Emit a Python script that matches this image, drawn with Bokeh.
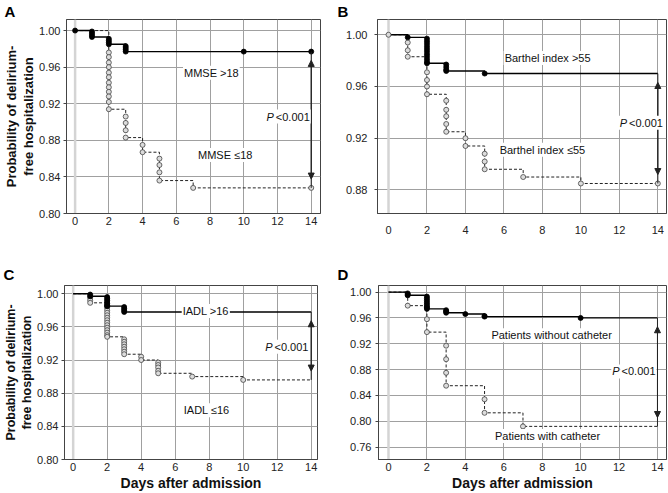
from bokeh.plotting import figure
from bokeh.layouts import column, row
from bokeh.models import Label, Arrow, NormalHead, FixedTicker, Span, Range1d, PrintfTickFormatter
from bokeh.embed import file_html
from bokeh.resources import INLINE

FONT = "Liberation Sans"

day_ticks = [0, 2, 4, 6, 8, 10, 12, 14]

# ---------------- Panel A (MMSE) ----------------
A_hi_t = [0, 1, 2, 3, 14]
A_hi_s = [1.000, 0.993, 0.985, 0.977, 0.977]
A_hi_marks = {0: [1.000], 1: [0.999, 0.997, 0.995, 0.993], 2: [0.991, 0.989, 0.987, 0.985],
              3: [0.983, 0.981, 0.979, 0.977], 10: [0.977], 14: [0.977]}
A_lo_t = [0, 2, 3, 4, 5, 7, 14]
A_lo_s = [1.000, 0.914, 0.883, 0.867, 0.836, 0.828, 0.828]
A_lo_marks = {2: [0.976, 0.971, 0.965, 0.960, 0.954, 0.949, 0.943, 0.938, 0.933, 0.928, 0.922, 0.914],
              3: [0.906, 0.899, 0.891, 0.883], 4: [0.875, 0.867], 5: [0.860, 0.853, 0.845, 0.836],
              7: [0.828], 14: [0.828]}
A_yticks = [0.80, 0.84, 0.88, 0.92, 0.96, 1.00]

# ---------------- Panel B (Barthel) ----------------
B_hi_t = [0, 1, 2, 3, 5, 14]
B_hi_s = [1.000, 0.998, 0.978, 0.972, 0.970, 0.970]
B_hi_marks = {1: [0.998], 2: [0.997, 0.995, 0.993, 0.991, 0.989, 0.987, 0.985, 0.983, 0.981, 0.979, 0.978],
              3: [0.977, 0.975, 0.973, 0.972], 5: [0.970]}
B_lo_t = [0, 1, 2, 3, 4, 5, 7, 10, 14]
B_lo_s = [1.000, 0.983, 0.954, 0.925, 0.914, 0.896, 0.890, 0.885, 0.885]
B_lo_marks = {0: [1.000], 1: [0.994, 0.988, 0.983], 2: [0.971, 0.965, 0.960, 0.954],
              3: [0.949, 0.942, 0.937, 0.931, 0.925], 4: [0.920, 0.914], 5: [0.908, 0.902, 0.896],
              7: [0.890], 10: [0.885], 14: [0.885]}
B_yticks = [0.88, 0.92, 0.96, 1.00]

# ---------------- Panel C (IADL) ----------------
C_hi_t = [0, 1, 2, 3, 14]
C_hi_s = [1.000, 0.997, 0.985, 0.978, 0.978]
C_hi_marks = {1: [0.999, 0.997], 2: [0.996, 0.994, 0.992, 0.990, 0.988, 0.986, 0.985],
              3: [0.984, 0.982, 0.980, 0.978]}
C_lo_t = [0, 1, 2, 3, 4, 5, 7, 10, 14]
C_lo_s = [1.000, 0.989, 0.948, 0.927, 0.920, 0.904, 0.900, 0.896, 0.896]
C_lo_marks = {1: [0.995, 0.992, 0.989],
              2: [0.986, 0.983, 0.980, 0.977, 0.974, 0.971, 0.968, 0.965, 0.962, 0.959, 0.956, 0.953, 0.950, 0.948],
              3: [0.945, 0.942, 0.939, 0.936, 0.933, 0.930, 0.927], 4: [0.924, 0.920],
              5: [0.917, 0.914, 0.911, 0.907, 0.904], 7: [0.900], 10: [0.896]}
C_yticks = [0.80, 0.84, 0.88, 0.92, 0.96, 1.00]

# ---------------- Panel D (catheter) ----------------
D_hi_t = [0, 1, 2, 3, 4, 5, 10, 14]
D_hi_s = [1.000, 0.995, 0.974, 0.968, 0.966, 0.962, 0.960, 0.960]
D_hi_marks = {1: [0.998, 0.996, 0.995], 2: [0.993, 0.990, 0.987, 0.984, 0.981, 0.978, 0.976, 0.974],
              3: [0.972, 0.970, 0.968], 4: [0.966], 5: [0.963, 0.962], 10: [0.960]}
D_lo_t = [0, 1, 2, 3, 5, 7, 14]
D_lo_s = [1.000, 0.979, 0.938, 0.855, 0.813, 0.792, 0.792]
D_lo_marks = {1: [0.979], 2: [0.958, 0.938], 3: [0.917, 0.896, 0.875, 0.855],
              5: [0.834, 0.813], 7: [0.792]}
D_yticks = [0.76, 0.80, 0.84, 0.88, 0.92, 0.96, 1.00]

Y_LABEL = "Probability of delirium-\nfree hospitalization"
X_LABEL = "Days after admission"


def flatten(marks):
    xs, ys = [], []
    for t, vals in marks.items():
        for v in vals:
            xs.append(t)
            ys.append(v)
    return xs, ys


def panel(letter, W, H, bl, br, bt, bb, xr, yr, yticks,
          hi_t, hi_s, hi_marks, lo_t, lo_s, lo_marks,
          hi_label, lo_label, p_pos, ylabel=None, xlabel=False,
          x_standoff=3, y_standoff=4, letter_standoff=0):
    p = figure(width=W, height=H, output_backend="svg", toolbar_location=None,
               x_range=Range1d(*xr), y_range=Range1d(*yr), title=letter[0],
               min_border_left=bl, min_border_right=br, min_border_top=bt, min_border_bottom=bb)
    fh = H - bt - bb

    # panel letter as the figure title, pushed to the left edge
    p.title.align = "left"
    p.title.offset = letter[1] - bl
    p.title.standoff = letter_standoff
    p.title.text_font = FONT
    p.title.text_font_size = "15px"
    p.title.text_font_style = "bold"
    p.title.text_color = "black"

    p.background_fill_color = "white"
    p.border_fill_color = "white"
    p.outline_line_color = "#444444"
    p.outline_line_width = 1

    for ax in (p.xaxis[0], p.yaxis[0]):
        ax.major_label_text_font = FONT
        ax.major_label_text_font_size = "11px"
        ax.major_label_text_color = "#222222"
        ax.axis_line_color = "#444444"
        ax.minor_tick_line_color = None
        ax.major_tick_line_color = "#444444"
        ax.axis_label_text_font = FONT
        ax.axis_label_text_font_style = "bold"
        ax.axis_label_text_color = "#111111"
    p.xaxis.ticker = FixedTicker(ticks=day_ticks)
    p.xaxis.major_tick_out = 0
    p.xaxis.major_tick_in = 0
    p.xaxis.major_label_standoff = x_standoff
    p.yaxis.ticker = FixedTicker(ticks=yticks)
    p.yaxis.formatter = PrintfTickFormatter(format="%.2f")
    p.yaxis.major_tick_out = 3
    p.yaxis.major_tick_in = 0
    p.yaxis.major_label_standoff = y_standoff
    if ylabel:
        p.yaxis.axis_label = Y_LABEL
        p.yaxis.axis_label_text_font_size = ylabel
        p.yaxis.axis_label_text_line_height = 1.15
        p.yaxis.axis_label_standoff = 0
    if xlabel:
        p.xaxis.axis_label = X_LABEL
        p.xaxis.axis_label_text_font_size = "14px"
        p.xaxis.axis_label_standoff = 1

    p.xgrid.ticker = FixedTicker(ticks=day_ticks)
    p.ygrid.ticker = FixedTicker(ticks=yticks)
    for g in (p.xgrid[0], p.ygrid[0]):
        g.grid_line_color = "#a0a0a0"
        g.grid_line_width = 1

    p.add_layout(Span(location=0, dimension="height", line_color="#d4d4d4", line_width=2.5, level="underlay"))

    # curves
    p.step(lo_t, lo_s, mode="after", line_color="#222222", line_width=1, line_dash="3 2")
    p.step(hi_t, hi_s, mode="after", line_color="black", line_width=1.4)
    lx, ly = flatten(lo_marks)
    p.scatter(lx, ly, marker="circle", size=5, fill_color="#dcdcdc", line_color="#444444", line_width=0.8)
    hx, hy = flatten(hi_marks)
    p.scatter(hx, hy, marker="circle", size=5, fill_color="black", line_color="black", line_width=0.8)

    # double arrow between the curves at day 14
    top, bot = hi_s[-1], lo_s[-1]
    inset = 9 * (yr[1] - yr[0]) / fh
    p.segment(x0=[hi_t[-1]], y0=[top], x1=[hi_t[-1]], y1=[bot], line_color="#222222", line_width=1)
    p.add_layout(Arrow(x_start=hi_t[-1], y_start=top - inset, x_end=hi_t[-1], y_end=bot + inset,
                       line_color="#222222", line_width=1,
                       start=NormalHead(size=6, fill_color="#222222", line_color="#222222"),
                       end=NormalHead(size=6, fill_color="#222222", line_color="#222222")))

    def lab(x, y, text, align="center", style="normal"):
        p.add_layout(Label(x=x, y=y, text=text, text_align=align, text_baseline="middle",
                           text_font=FONT, text_font_size="11px", text_font_style=style,
                           text_color="#111111", background_fill_color="white", padding=1))

    lab(hi_label[0], hi_label[1], hi_label[2])
    lab(lo_label[0], lo_label[1], lo_label[2])
    lab(p_pos[0], p_pos[1], "P", align="right", style="italic")
    lab(p_pos[0], p_pos[1], "<0.001", align="left")
    return p


# canvases: A (0,0) 334x240, B (334,0) 333x240, C (0,240) 334x253, D (334,240) 333x253
fA = panel(("A", 2), 334, 240, 64, 14, 18, 24, (-0.51, 14.55), (0.80, 1.0121), A_yticks,
           A_hi_t, A_hi_s, A_hi_marks, A_lo_t, A_lo_s, A_lo_marks,
           (8.08, 0.954, "MMSE >18"), (8.9, 0.864, "MMSE \u226418"), (11.84, 0.906),
           ylabel="13px", x_standoff=3, y_standoff=3)
fB = panel(("B", 3), 333, 240, 43, 1, 18, 27, (-0.572, 14.45), (0.8618, 1.0118), B_yticks,
           B_hi_t, B_hi_s, B_hi_marks, B_lo_t, B_lo_s, B_lo_marks,
           (8.27, 0.982, "Barthel index >55"), (8.0, 0.911, "Barthel index \u226455"), (12.45, 0.932),
           x_standoff=12, y_standoff=7)
fC = panel(("C", 3), 334, 253, 64, 17, 45, 31, (-0.51, 14.37), (0.80, 1.0099), C_yticks,
           C_hi_t, C_hi_s, C_hi_marks, C_lo_t, C_lo_s, C_lo_marks,
           (7.8, 0.979, "IADL >16"), (7.85, 0.8595, "IADL \u226416"), (11.78, 0.936),
           ylabel="12.5px", xlabel=True, x_standoff=3, y_standoff=3, letter_standoff=6)
fD = panel(("D", 3), 333, 253, 44, 1, 45, 31, (-0.52, 14.47), (0.7407, 1.0102), D_yticks,
           D_hi_t, D_hi_s, D_hi_marks, D_lo_t, D_lo_s, D_lo_marks,
           (8.49, 0.933, "Patients without catheter"), (8.28, 0.777, "Patients with catheter"),
           (12.08, 0.877), xlabel=True, x_standoff=3, letter_standoff=6)

layout = column(row(fA, fB, spacing=0), row(fC, fD, spacing=0), spacing=0)

open("out.html", "w").write(file_html(layout, INLINE))
